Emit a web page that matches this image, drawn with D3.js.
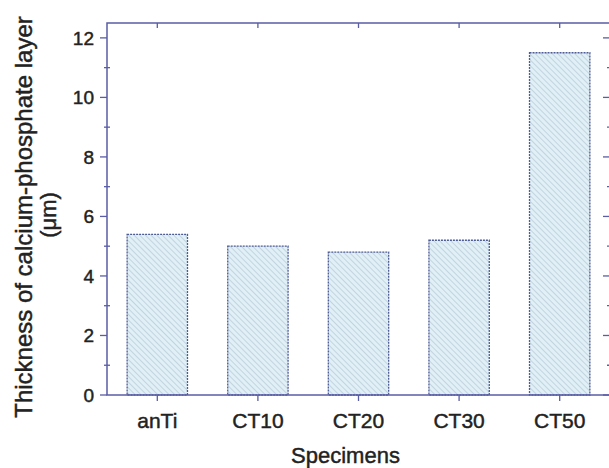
<!DOCTYPE html>
<html>
<head>
<meta charset="utf-8">
<script src="https://cdn.jsdelivr.net/npm/d3@7"></script>
<style>
  body { margin: 0; background: #fff; }
  svg { display: block; font-family: "Liberation Sans", Arial, sans-serif; }
  .lbl { fill: #222; stroke: #222; stroke-width: 0.45px; }
</style>
</head>
<body>
<div id="chart"></div>
<script>
// Data
const specimens = ["anTi", "CT10", "CT20", "CT30", "CT50"];
const thickness = [5.4, 5.0, 4.8, 5.2, 11.5];
const yTicks = [0, 2, 4, 6, 8, 10, 12];
const yMinorTicks = [1, 3, 5, 7, 9, 11];

const width = 609, height = 468;
const margin = { top: 23, left: 107, right: -1, bottom: 73 };
const axisColor = "#5a5ca6";

const svg = d3.select("#chart").append("svg")
    .attr("width", width)
    .attr("height", height);

// Hatch pattern for the bars (lines running top-left to bottom-right)
const defs = svg.append("defs");
const pat = defs.append("pattern")
    .attr("id", "hatch")
    .attr("patternUnits", "userSpaceOnUse")
    .attr("width", 4)
    .attr("height", 4)
    .attr("patternTransform", "rotate(-45)");
pat.append("rect").attr("width", 4).attr("height", 4).attr("fill", "#e1f0f7");
pat.append("line")
    .attr("x1", 0).attr("y1", 0).attr("x2", 0).attr("y2", 4)
    .attr("stroke", "#a5b8c8").attr("stroke-width", 1);

const x = d3.scaleBand()
    .domain(specimens)
    .range([margin.left, width - margin.right])
    .paddingInner(0.4)
    .paddingOuter(0.2);

const y = d3.scaleLinear()
    .domain([0, 12.5])
    .range([height - margin.bottom, margin.top]);

// Bars
svg.append("g")
    .selectAll("rect")
    .data(specimens.map((s, i) => ({ s, v: thickness[i] })))
    .enter()
    .append("rect")
    .attr("x", d => x(d.s))
    .attr("y", d => y(d.v))
    .attr("width", x.bandwidth())
    .attr("height", d => y(0) - y(d.v))
    .attr("fill", "url(#hatch)")
    .attr("stroke", "#4d5c96")
    .attr("stroke-width", 1.3)
    .attr("stroke-dasharray", "2,1");

const x0 = margin.left, x1 = width - margin.right;
const y0 = y(0), y1 = margin.top;

// Frame
svg.append("rect")
    .attr("x", x0).attr("y", y1)
    .attr("width", x1 - x0).attr("height", y0 - y1)
    .attr("fill", "none")
    .attr("stroke", axisColor)
    .attr("stroke-width", 1.5);

// Left axis ticks (major outward, minor across)
const ticks = svg.append("g").attr("stroke", axisColor).attr("stroke-width", 1.3);
ticks.selectAll(".ly").data(yTicks).enter().append("line")
    .attr("x1", x0 - 7).attr("x2", x0)
    .attr("y1", d => y(d)).attr("y2", d => y(d));
ticks.selectAll(".lym").data(yMinorTicks).enter().append("line")
    .attr("x1", x0 - 3).attr("x2", x0 + 3)
    .attr("y1", d => y(d)).attr("y2", d => y(d));
// Right axis ticks (inward)
ticks.selectAll(".ry").data(yTicks).enter().append("line")
    .attr("x1", x1 - 7).attr("x2", x1)
    .attr("y1", d => y(d)).attr("y2", d => y(d));
ticks.selectAll(".rym").data(yMinorTicks).enter().append("line")
    .attr("x1", x1 - 3).attr("x2", x1)
    .attr("y1", d => y(d)).attr("y2", d => y(d));
// Bottom ticks (outward) and top ticks (inward)
ticks.selectAll(".bx").data(specimens).enter().append("line")
    .attr("x1", d => x(d) + x.bandwidth() / 2).attr("x2", d => x(d) + x.bandwidth() / 2)
    .attr("y1", y0).attr("y2", y0 + 6);
ticks.selectAll(".tx").data(specimens).enter().append("line")
    .attr("x1", d => x(d) + x.bandwidth() / 2).attr("x2", d => x(d) + x.bandwidth() / 2)
    .attr("y1", y1).attr("y2", y1 + 5);

// Tick labels
svg.append("g")
    .selectAll("text")
    .data(yTicks)
    .enter()
    .append("text")
    .attr("class", "lbl")
    .attr("x", x0 - 13)
    .attr("y", d => y(d) + 7)
    .attr("text-anchor", "end")
    .style("font-size", "19px")
    .text(d => d);

svg.append("g")
    .selectAll("text")
    .data(specimens)
    .enter()
    .append("text")
    .attr("class", "lbl")
    .attr("x", d => x(d) + x.bandwidth() / 2)
    .attr("y", 428)
    .attr("text-anchor", "middle")
    .style("font-size", "21px")
    .text(d => d);

// Axis titles
svg.append("text")
    .attr("class", "lbl")
    .attr("x", (x0 + x1) / 2 - 13)
    .attr("y", 463)
    .attr("text-anchor", "middle")
    .style("font-size", "22px")
    .text("Specimens");

svg.append("text")
    .attr("class", "lbl")
    .attr("transform", "translate(32,217) rotate(-90)")
    .attr("text-anchor", "middle")
    .style("font-size", "24px")
    .text("Thickness of calcium-phosphate layer");

svg.append("text")
    .attr("class", "lbl")
    .attr("transform", "translate(56,215) rotate(-90)")
    .attr("text-anchor", "middle")
    .style("font-size", "22px")
    .text("(μm)");
</script>
</body>
</html>
